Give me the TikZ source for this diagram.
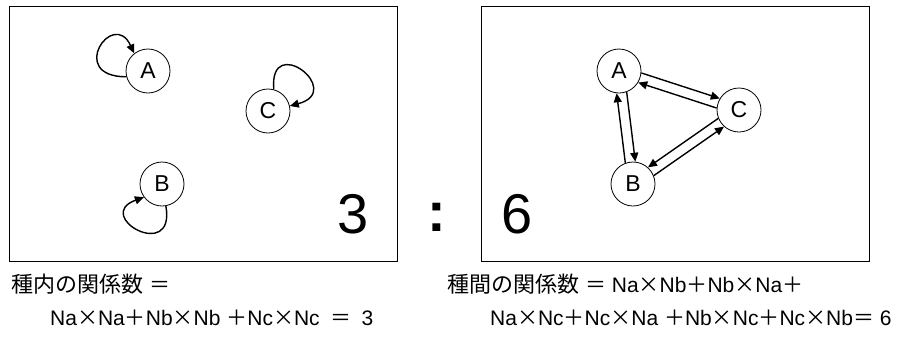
\documentclass[tikz,border=0pt]{standalone}
\usepackage{fontspec}
\setmainfont{Liberation Sans}
\newfontfamily\jpfont{Noto Sans CJK JP}
\newcommand{\jplus}{{\jpfont ＋}}
\newcommand{\jeq}{{\jpfont ＝}}
\newcommand{\jtimes}{{\jpfont ×}}
\usetikzlibrary{arrows.meta}
\begin{document}
\begin{tikzpicture}[x=1pt,y=1pt,
  sp/.style={draw,circle,line width=0.8pt,minimum size=44pt,inner sep=0pt,font=\fontsize{23}{23}\selectfont},
  rel/.style={line width=1.4pt,-{Triangle[length=9pt,width=8pt]}},
  big/.style={anchor=base,inner sep=0pt,font=\fontsize{56}{56}\selectfont},
  eq/.style={anchor=base west,inner sep=0pt,font=\fontsize{21}{26}\selectfont}]
  \useasboundingbox (0,0) rectangle (921,-338);
  % panels
  \draw[line width=0.8pt] (9.5,-6) rectangle (397,-261);
  \draw[line width=0.8pt] (481,-6) rectangle (869,-261);
  % within species
  \node[sp] (a1) at (148,-71) {A};
  \node[sp] (b1) at (162,-184) {B};
  \node[sp] (c1) at (268,-111) {C};
  \draw[rel] (a1.195) .. controls +(180:60) and +(115:50) .. (a1.128);
  \draw[rel] (c1.75) .. controls +(95:58) and +(15:58) .. (c1.13);
  \draw[rel] (b1.280) .. controls +(280:58) and +(200:55) .. (b1.216);
  % ratio
  \node[big] (n3) at (353,-233) {3};
  \node[big] (colon) at (437,-231) {\bfseries :};
  \node[big] (n6) at (517,-233) {6};
  % between species
  \node[sp] (a2) at (619,-71) {A};
  \node[sp] (b2) at (633,-184) {B};
  \node[sp] (c2) at (739,-110) {C};
  \draw[rel] (a2.-5) -- (c2.149);
  \draw[rel] (c2.175) -- (a2.-31);
  \draw[rel] (a2.-70) -- (b2.84);
  \draw[rel] (b2.110) -- (a2.-96);
  \draw[rel] (b2.22) -- (c2.228);
  \draw[rel] (c2.202) -- (b2.48);
  % formulas
  \node[eq] (intra) at (11,-292) {{\jpfont\fontsize{22}{26}\selectfont 種内の関係数} \jeq};
  \node[eq] (intraf) at (50,-325) {Na\jtimes Na\jplus Nb\jtimes Nb \jplus Nc\jtimes Nc\enspace\jeq\enspace 3};
  \node[eq] (inter) at (447,-292) {{\jpfont\fontsize{22}{26}\selectfont 種間の関係数} \jeq{} Na\jtimes Nb\jplus Nb\jtimes Na\jplus};
  \node[eq] (interf) at (490,-325) {Na\jtimes Nc\jplus Nc\jtimes Na \jplus Nb\jtimes Nc\jplus Nc\jtimes Nb\jeq{} 6};
\end{tikzpicture}
\end{document}
